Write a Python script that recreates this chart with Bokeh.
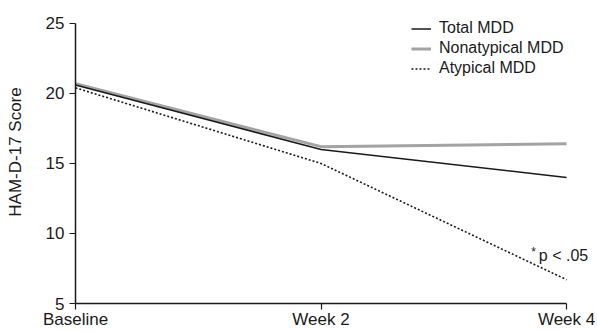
from bokeh.plotting import figure
from bokeh.models import Range1d, FixedTicker, Legend, LegendItem, Label
from bokeh.embed import file_html
from bokeh.resources import INLINE

# ---- data ----
timepoints = ["Baseline", "Week 2", "Week 4"]
total_mdd = [20.6, 16.0, 14.0]
nonatypical_mdd = [20.7, 16.2, 16.4]
atypical_mdd = [20.4, 15.0, 6.7]
y_ticks = [5, 10, 15, 20, 25]

x = list(range(len(timepoints)))
FONT = "Liberation Sans"

p = figure(width=597, height=331, output_backend="svg", toolbar_location=None,
           x_range=Range1d(0, 2.126), y_range=Range1d(5, 26.637),
           min_border_left=75, min_border_right=0, min_border_top=0, min_border_bottom=27)
p.outline_line_color = None
p.grid.visible = False
p.background_fill_color = "white"

r_non = p.line(x, nonatypical_mdd, line_color="#a3a3a5", line_width=3)
r_tot = p.line(x, total_mdd, line_color="#1a1a1a", line_width=1.5)
r_aty = p.line(x, atypical_mdd, line_color="#1a1a1a", line_width=1.6, line_dash="2 2")

# axes
p.xaxis.ticker = FixedTicker(ticks=x)
p.xaxis.bounds = (x[0], x[-1])
p.xaxis.major_label_overrides = {i: t for i, t in zip(x, timepoints)}
p.yaxis.ticker = FixedTicker(ticks=y_ticks)
p.yaxis.bounds = (y_ticks[0], y_ticks[-1])
for ax in (p.xaxis[0], p.yaxis[0]):
    ax.axis_line_color = "#1a1a1a"
    ax.axis_line_width = 1.5
    ax.major_tick_line_color = "#1a1a1a"
    ax.major_tick_line_width = 1.2
    ax.major_tick_in = 0
    ax.major_tick_out = 6
    ax.minor_tick_line_color = None
    ax.major_label_text_font = FONT
    ax.major_label_text_font_size = "17px"
    ax.major_label_text_color = "#1a1a1a"
p.xaxis.major_label_standoff = 0
p.yaxis.major_label_standoff = 5
p.yaxis.axis_label = "HAM-D-17 Score"
p.yaxis.axis_label_text_font = FONT
p.yaxis.axis_label_text_font_size = "17px"
p.yaxis.axis_label_text_font_style = "normal"
p.yaxis.axis_label_text_color = "#1a1a1a"
p.yaxis.axis_label_standoff = 18

legend = Legend(items=[LegendItem(label="Total MDD", renderers=[r_tot]),
                       LegendItem(label="Nonatypical MDD", renderers=[r_non]),
                       LegendItem(label="Atypical MDD", renderers=[r_aty])],
                location=(336, 226), margin=0, padding=0,
                glyph_width=20, glyph_height=17, label_height=17, spacing=2,
                label_standoff=8, label_text_font=FONT, label_text_font_size="16px",
                label_text_color="#1a1a1a", border_line_color=None,
                background_fill_alpha=0)
p.add_layout(legend, "center")

p.add_layout(Label(x=1.866, y=8.65, text="*", text_font=FONT, text_font_size="12px",
                   text_color="#1a1a1a", text_baseline="middle", text_align="center"))
p.add_layout(Label(x=1.887, y=8.45, text="p < .05", text_font=FONT, text_font_size="16px",
                   text_color="#1a1a1a", text_baseline="middle", text_align="left"))

open("out.html", "w").write(file_html(p, INLINE))
